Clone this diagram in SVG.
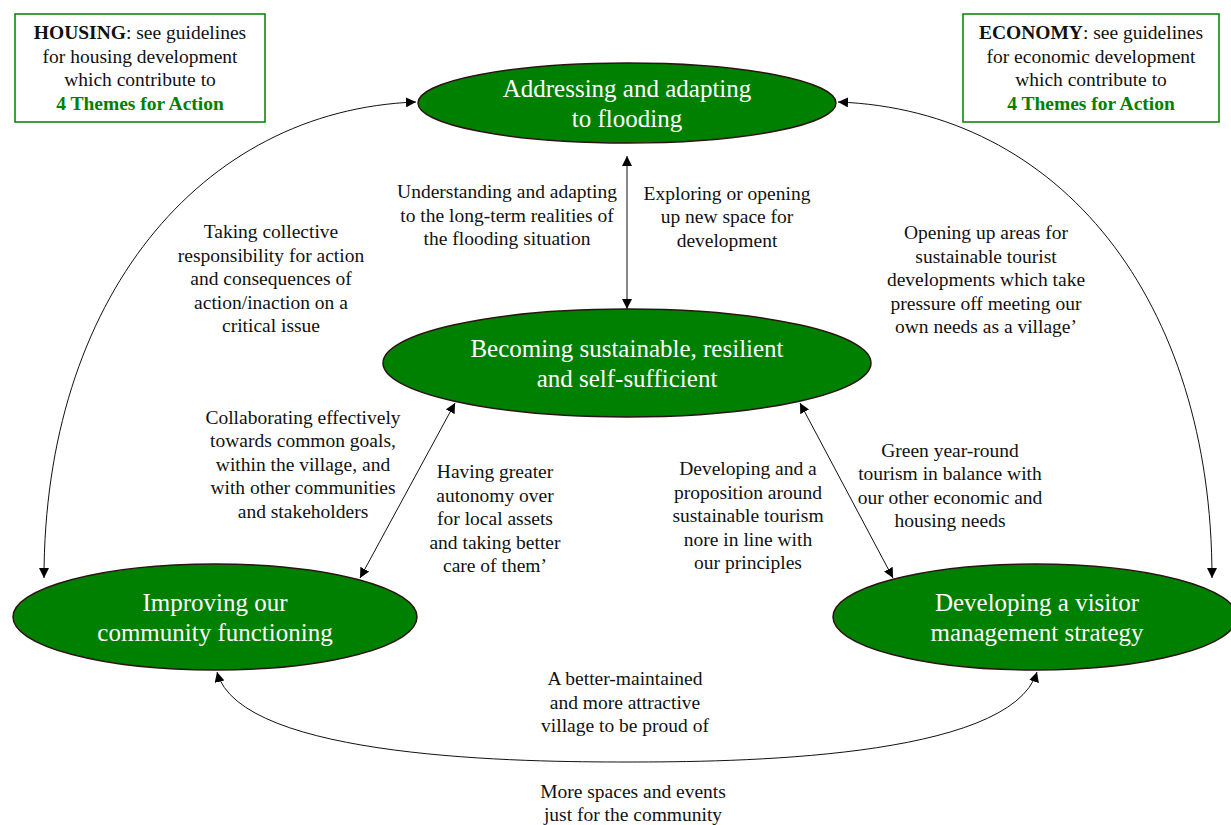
<svg xmlns="http://www.w3.org/2000/svg" width="1231" height="825" viewBox="0 0 1231 825">
  <defs>
    <marker id="arr" viewBox="0 0 10 10" refX="10" refY="5" markerWidth="10" markerHeight="10" markerUnits="userSpaceOnUse" orient="auto-start-reverse">
      <path d="M0,0 L10,5 L0,10 z" fill="#000"/>
    </marker>
    <style>
      .node ellipse { fill: #008000; stroke: #2a1414; stroke-width: 1.5; }
      .node text { font-size: 25px; fill: #fff; text-anchor: middle; }
      .box rect { fill: #fff; stroke: #008000; stroke-width: 1.5; }
      .box text { font-size: 19.5px; fill: #111; text-anchor: middle; }
      .box .hl { fill: #008000; font-weight: bold; }
      .lbl { font-size: 19.5px; fill: #111; text-anchor: middle; }
      .edge { fill: none; stroke: #111; stroke-width: 1; marker-start: url(#arr); marker-end: url(#arr); }
    </style>
  </defs>
  <rect width="1231" height="825" fill="#fff"/>

  <g font-family="Liberation Serif, Tinos, Times New Roman, DejaVu Serif, serif">
  <!-- info boxes -->
  <g id="housing" class="box">
    <rect x="15" y="14" width="250" height="108"/>
    <text x="140" y="39"><tspan font-weight="bold">HOUSING</tspan>: see guidelines</text>
    <text x="140" y="63">for housing development</text>
    <text x="140" y="86">which contribute to</text>
    <text x="140" y="110" class="hl">4 Themes for Action</text>
  </g>
  <g id="economy" class="box">
    <rect x="963" y="14" width="256" height="108"/>
    <text x="1091" y="39"><tspan font-weight="bold">ECONOMY</tspan>: see guidelines</text>
    <text x="1091" y="63">for economic development</text>
    <text x="1091" y="86">which contribute to</text>
    <text x="1091" y="110" class="hl">4 Themes for Action</text>
  </g>

  <!-- connectors -->
  <g id="connectors">
    <path class="edge" d="M627,156 L627,309"/>
    <path class="edge" d="M416,102 C200,110 44,300 44,578"/>
    <path class="edge" d="M838,102 C1060,110 1212,300 1212,578"/>
    <path class="edge" d="M455,403 L360,578"/>
    <path class="edge" d="M800,403 L893,578"/>
    <path class="edge" d="M217,672 C240,760 530,762 627,762 C730,762 1010,760 1037,672"/>
  </g>

  <!-- theme nodes -->
  <g id="flooding" class="node">
    <ellipse cx="627" cy="103" rx="209" ry="40"/>
    <text x="627" y="97">Addressing and adapting</text>
    <text x="627" y="127">to flooding</text>
  </g>
  <g id="sustainable" class="node">
    <ellipse cx="627" cy="363" rx="244" ry="54"/>
    <text x="627" y="357">Becoming sustainable, resilient</text>
    <text x="627" y="387">and self-sufficient</text>
  </g>
  <g id="community" class="node">
    <ellipse cx="215" cy="617" rx="202" ry="53"/>
    <text x="215" y="611">Improving our</text>
    <text x="215" y="641">community functioning</text>
  </g>
  <g id="visitor" class="node">
    <ellipse cx="1035" cy="617" rx="202" ry="53"/>
    <text x="1037" y="611">Developing a visitor</text>
    <text x="1037" y="641">management strategy</text>
  </g>

  <!-- connector labels -->
  <g id="labels" class="lbl">
    <text x="507" y="198">Understanding and adapting</text>
    <text x="507" y="222">to the long-term realities of</text>
    <text x="507" y="245">the flooding situation</text>

    <text x="727" y="200">Exploring or opening</text>
    <text x="727" y="223">up new space for</text>
    <text x="727" y="247">development</text>

    <text x="271" y="238">Taking collective</text>
    <text x="271" y="262">responsibility for action</text>
    <text x="271" y="285">and consequences of</text>
    <text x="271" y="309">action/inaction on a</text>
    <text x="271" y="332">critical issue</text>

    <text x="986" y="239">Opening up areas for</text>
    <text x="986" y="263">sustainable tourist</text>
    <text x="986" y="286">developments which take</text>
    <text x="986" y="310">pressure off meeting our</text>
    <text x="986" y="333">own needs as a village’</text>

    <text x="303" y="424">Collaborating effectively</text>
    <text x="303" y="447">towards common goals,</text>
    <text x="303" y="471">within the village, and</text>
    <text x="303" y="494">with other communities</text>
    <text x="303" y="518">and stakeholders</text>

    <text x="495" y="478">Having greater</text>
    <text x="495" y="502">autonomy over</text>
    <text x="495" y="525">for local assets</text>
    <text x="495" y="549">and taking better</text>
    <text x="495" y="572">care of them’</text>

    <text x="748" y="475">Developing and a</text>
    <text x="748" y="499">proposition around</text>
    <text x="748" y="522">sustainable tourism</text>
    <text x="748" y="546">nore in line with</text>
    <text x="748" y="569">our principles</text>

    <text x="950" y="457">Green year-round</text>
    <text x="950" y="480">tourism in balance with</text>
    <text x="950" y="504">our other economic and</text>
    <text x="950" y="527">housing needs</text>

    <text x="625" y="685">A better-maintained</text>
    <text x="625" y="709">and more attractive</text>
    <text x="625" y="732">village to be proud of</text>

    <text x="633" y="798">More spaces and events</text>
    <text x="633" y="821">just for the community</text>
  </g>
  </g>
</svg>
